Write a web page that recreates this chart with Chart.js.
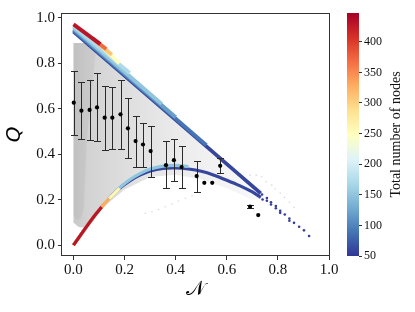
<!DOCTYPE html>
<html>
<head>
<meta charset="utf-8">
<script src="https://cdn.jsdelivr.net/npm/chart.js@4.4.0/dist/chart.umd.min.js"></script>
<style>
  html, body { margin: 0; padding: 0; background: #fff; }
  canvas { display: block; }
</style>
</head>
<body>
<canvas id="qChart" width="415" height="312"></canvas>
<script>
// binned means of Q against N, with their spread
const meanN = [0.001, 0.031, 0.063, 0.092, 0.122, 0.152, 0.184, 0.213, 0.243, 0.272, 0.302, 0.362, 0.393, 0.423, 0.482, 0.512, 0.543, 0.574, 0.691, 0.723];
const meanQ = [0.627, 0.592, 0.595, 0.606, 0.561, 0.561, 0.576, 0.514, 0.458, 0.443, 0.414, 0.352, 0.374, 0.344, 0.304, 0.274, 0.274, 0.349, 0.169, 0.132];
const errLo = [0.485, 0.465, 0.463, 0.457, 0.419, 0.423, 0.421, 0.382, 0.345, 0.345, 0.301, 0.250, 0.283, 0.250, 0.235, null, null, 0.319, 0.163, null];
const errHi = [0.767, 0.719, 0.727, 0.759, 0.702, 0.698, 0.727, 0.646, 0.570, 0.539, 0.524, 0.458, 0.467, 0.437, 0.371, null, null, 0.382, 0.175, null];

// upper edge, one line per network size
const bandNodes  = [60, 90, 120, 150, 170, 250, 310, 370, 430];
const bandStartN = [0, 0, 0, 0, 0, 0.115, 0.095, 0.075, 0];
const bandStartQ = [0.940, 0.946, 0.952, 0.958, 0.965, 0.870, 0.890, 0.910, 0.972];
const bandEndN   = [0.733, 0.520, 0.400, 0.345, 0.220, 0.180, 0.150, 0.128, 0.105];
const bandEndQ   = [0.228, 0.440, 0.563, 0.622, 0.758, 0.800, 0.838, 0.864, 0.885];

// lower arc
const arcN      = [0, 0.04, 0.08, 0.11, 0.14, 0.18, 0.22, 0.26, 0.30, 0.35, 0.40, 0.45, 0.50, 0.55, 0.60, 0.65, 0.70, 0.733];
const arcQ      = [0, 0.064, 0.126, 0.168, 0.205, 0.250, 0.283, 0.308, 0.326, 0.338, 0.340, 0.335, 0.325, 0.308, 0.286, 0.262, 0.234, 0.210];
const arcQLight = [0, 0.064, 0.126, 0.168, 0.205, 0.252, 0.288, 0.315, 0.335, 0.348, 0.351, 0.346];
const arcNodes  = [60, 150, 260, 330, 430];
const arcPoints = [18, 12, 6, 5, 4];

// small networks past the end of both curves
const tailN = [0.738, 0.740, 0.757, 0.757, 0.773, 0.773, 0.792, 0.792, 0.809, 0.809, 0.827, 0.845, 0.845, 0.863, 0.883, 0.902, 0.922];
const tailQ = [0.223, 0.201, 0.207, 0.195, 0.189, 0.179, 0.172, 0.162, 0.151, 0.142, 0.135, 0.117, 0.107, 0.098, 0.081, 0.065, 0.040];

// grey cloud of all networks
const cloudN = [0.000, 0.060, 0.100, 0.200, 0.300, 0.400, 0.500, 0.600, 0.700, 0.740, 0.700, 0.600, 0.500, 0.400, 0.300, 0.200, 0.120, 0.080, 0.050, 0.020, 0.000];
const cloudQ = [0.890, 0.890, 0.845, 0.745, 0.645, 0.545, 0.445, 0.345, 0.245, 0.205, 0.200, 0.250, 0.290, 0.310, 0.300, 0.245, 0.170, 0.110, 0.075, 0.080, 0.100];
const coreN = [0.000, 0.090, 0.075, 0.055, 0.045, 0.040, 0.030, 0.015, 0.000];
const coreQ = [0.890, 0.890, 0.720, 0.500, 0.300, 0.170, 0.120, 0.110, 0.130];
const faintN = [0.281, 0.307, 0.333, 0.359, 0.386, 0.411, 0.438, 0.464, 0.691, 0.715, 0.737, 0.754, 0.776, 0.789, 0.809, 0.826, 0.845, 0.863];
const faintQ = [0.140, 0.147, 0.157, 0.169, 0.181, 0.194, 0.206, 0.217, 0.308, 0.308, 0.301, 0.279, 0.264, 0.247, 0.228, 0.210, 0.189, 0.166];

const xTicks = [0, 0.2, 0.4, 0.6, 0.8, 1.0];
const yTicks = [0, 0.2, 0.4, 0.6, 0.8, 1.0];
const cbTicks = [50, 100, 150, 200, 250, 300, 350, 400];
const cbMin = 50;
const cbMax = 447;

const rdylbu = ['#313695', '#4575b4', '#74add1', '#abd9e9', '#e0f3f8', '#ffffbf', '#fee090', '#fdae61', '#f46d43', '#d73027', '#a50026'];

function hexRgb(h) {
    return [1, 3, 5].map(i => parseInt(h.substr(i, 2), 16));
}
function cmap(n) {
    let t = Math.min(1, Math.max(0, (n - cbMin) / (cbMax - cbMin))) * 10;
    const i = Math.min(9, Math.floor(t));
    const f = t - i;
    const a = hexRgb(rdylbu[i]), b = hexRgb(rdylbu[i + 1]);
    const c = a.map((v, k) => Math.round(v + (b[k] - v) * f));
    return 'rgb(' + c.join(',') + ')';
}
function pts(xs, ys, n) {
    return xs.slice(0, n || xs.length).map((x, i) => ({ x: x, y: ys[i] }));
}

function cloudFill(context) {
    const chart = context.chart;
    if (!chart.chartArea) return '#ddd';
    const x = chart.scales.x;
    const g = chart.ctx.createLinearGradient(x.getPixelForValue(0), 0, x.getPixelForValue(0.74), 0);
    g.addColorStop(0, '#c8c8c8');
    g.addColorStop(0.08, '#d3d3d3');
    g.addColorStop(0.3, '#dfdfdf');
    g.addColorStop(0.55, '#ebebeb');
    g.addColorStop(0.8, '#f4f4f4');
    g.addColorStop(1, '#f8f8f8');
    return g;
}

const datasets = [];
datasets.push({
    data: pts(meanN, meanQ), errorBars: true, order: 0,
    pointRadius: 2.1, pointBackgroundColor: '#000', pointBorderWidth: 0
});
datasets.push({
    data: pts(tailN, tailQ), order: 5,
    pointRadius: 1.3, pointBackgroundColor: cmap(55), pointBorderWidth: 0
});
bandNodes.forEach((n, i) => {
    datasets.push({
        data: [{ x: bandStartN[i], y: bandStartQ[i] }, { x: bandEndN[i], y: bandEndQ[i] }],
        order: 20 - i, showLine: true, pointRadius: 0,
        borderColor: cmap(n), borderWidth: 3.8
    });
});
arcNodes.forEach((n, i) => {
    datasets.push({
        data: pts(arcN, i === 1 ? arcQLight : arcQ, arcPoints[i]),
        order: 40 - i, showLine: true, pointRadius: 0, tension: 0.3,
        borderColor: cmap(n), borderWidth: 3.2
    });
});
datasets.push({
    data: pts(faintN, faintQ), order: 50,
    pointRadius: 0.8, pointBackgroundColor: '#d9d9d9', pointBorderWidth: 0
});
datasets.push({
    data: pts(coreN, coreQ), order: 55, showLine: true, pointRadius: 0,
    borderWidth: 0, fill: 'shape', backgroundColor: 'rgba(170,170,170,0.24)'
});
datasets.push({
    data: pts(cloudN, cloudQ), order: 60, showLine: true, pointRadius: 0,
    borderWidth: 0, fill: 'shape', backgroundColor: cloudFill
});

const errorBarPlugin = {
    id: 'errorBars',
    beforeDatasetDraw(chart, args) {
        if (!chart.data.datasets[args.index].errorBars) return;
        const { ctx, scales: { x, y } } = chart;
        ctx.save();
        ctx.strokeStyle = '#2a2a2a';
        ctx.lineWidth = 1;
        meanN.forEach((n, i) => {
            if (errLo[i] === null) return;
            const px = Math.round(x.getPixelForValue(n)) + 0.5;
            const lo = Math.round(y.getPixelForValue(errLo[i])) + 0.5;
            const hi = Math.round(y.getPixelForValue(errHi[i])) + 0.5;
            ctx.beginPath();
            ctx.moveTo(px, lo); ctx.lineTo(px, hi);
            ctx.moveTo(px - 3.5, lo); ctx.lineTo(px + 3.5, lo);
            ctx.moveTo(px - 3.5, hi); ctx.lineTo(px + 3.5, hi);
            ctx.stroke();
        });
        ctx.restore();
    }
};

const framePlugin = {
    id: 'frame',
    afterDatasetsDraw(chart) {
        const { ctx, chartArea: a } = chart;
        ctx.save();
        ctx.strokeStyle = '#333';
        ctx.lineWidth = 1;
        ctx.strokeRect(Math.round(a.left) - 0.5, Math.round(a.top) + 0.5, Math.round(a.right - a.left) + 1, Math.round(a.bottom - a.top) - 1);
        ctx.restore();
    }
};

const colorbarPlugin = {
    id: 'colorbar',
    afterDraw(chart) {
        const ctx = chart.ctx;
        const cb = chart.scales.cb;
        const top = cb.getPixelForValue(cbMax);
        const bottom = cb.getPixelForValue(cbMin);
        const right = cb.left;
        const left = right - 12;
        const g = ctx.createLinearGradient(0, bottom, 0, top);
        rdylbu.forEach((c, i) => g.addColorStop(i / (rdylbu.length - 1), c));
        ctx.save();
        ctx.fillStyle = g;
        ctx.fillRect(left, top, right - left, bottom - top);
        ctx.translate(cb.left + 37, (top + bottom) / 2);
        ctx.rotate(-Math.PI / 2);
        ctx.font = '14px "Liberation Serif"';
        ctx.textAlign = 'center';
        ctx.textBaseline = 'middle';
        ctx.fillStyle = '#111';
        ctx.fillText('Total number of nodes', 0, 0);
        ctx.restore();
    }
};

const tickFont = { family: '"Liberation Serif", "DejaVu Serif", serif', size: 15 };

new Chart(document.getElementById('qChart'), {
    type: 'scatter',
    data: { datasets: datasets },
    plugins: [errorBarPlugin, framePlugin, colorbarPlugin],
    options: {
        responsive: false,
        animation: false,
        layout: { padding: { top: 13, left: 0, right: 0, bottom: 0 } },
        plugins: { legend: { display: false }, tooltip: { enabled: false } },
        scales: {
            x: {
                type: 'linear', min: -0.045, max: 1.0,
                afterFit: s => { s.height = 56; },
                afterBuildTicks: s => { s.ticks = xTicks.map(v => ({ value: v })); },
                ticks: { callback: v => v.toFixed(1), font: tickFont, color: '#111', padding: 1, maxRotation: 0, autoSkip: false },
                grid: { drawOnChartArea: false, tickLength: 4, color: '#333' },
                border: { display: false },
                title: {
                    display: true, text: '\u{1D4A9}', color: '#000',
                    font: { family: '"DejaVu Serif", "DejaVu Sans", serif', size: 20, lineHeight: 1.2 },
                    padding: { top: 0, bottom: 10 }
                }
            },
            y: {
                type: 'linear', min: -0.048, max: 1.022,
                afterFit: s => { s.width = 62; },
                afterBuildTicks: s => { s.ticks = yTicks.map(v => ({ value: v })); },
                ticks: { callback: v => v.toFixed(1), font: tickFont, color: '#111', padding: 3, autoSkip: false },
                grid: { drawOnChartArea: false, tickLength: 4, color: '#333' },
                border: { display: false },
                title: {
                    display: true, text: 'Q', color: '#000',
                    font: { family: '"DejaVu Sans", sans-serif', style: 'italic', size: 20, lineHeight: 1.2 },
                    padding: { top: 3, bottom: 0 }
                }
            },
            gap: {
                type: 'linear', position: 'right', weight: 0,
                afterFit: s => { s.width = 30; },
                grid: { display: false }, ticks: { display: false }, border: { display: false }
            },
            cb: {
                type: 'linear', position: 'right', weight: 1, min: cbMin, max: cbMax,
                afterFit: s => { s.width = 56; },
                afterBuildTicks: s => { s.ticks = cbTicks.map(v => ({ value: v })); },
                ticks: { font: { family: '"Liberation Serif", serif', size: 12 }, color: '#111', padding: 2, autoSkip: false },
                grid: { drawOnChartArea: false, tickLength: 3, color: '#333' },
                border: { display: false }
            }
        }
    }
});
</script>
</body>
</html>
